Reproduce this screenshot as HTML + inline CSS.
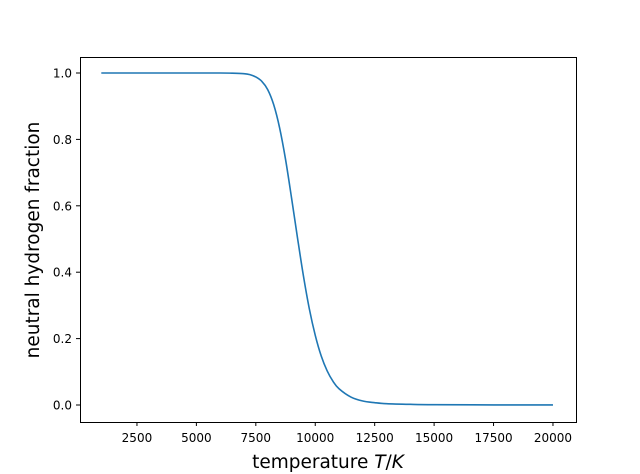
<!DOCTYPE html>
<html><head><meta charset="utf-8"><style>
html,body{margin:0;padding:0;background:#fff;}
svg{display:block;font-family:"DejaVu Sans","Liberation Sans",sans-serif;}
</style></head><body>
<svg id="chart" width="640" height="474" viewBox="0 0 640 474">
<rect x="0" y="0" width="640" height="474" fill="#fff"/>
<g id="ticks"></g>
<path id="curve" fill="none" stroke="#1f77b4" stroke-width="1.6"/>
<rect x="80.5" y="57.5" width="496" height="365" fill="none" stroke="#000" stroke-width="1"/>
<text x="328" y="468" font-size="18.5" text-anchor="middle">temperature <tspan font-style="italic">T</tspan>/<tspan font-style="italic">K</tspan></text>
<text transform="translate(39,240) rotate(-90)" font-size="18.5" text-anchor="middle">neutral hydrogen fraction</text>
</svg>
<script>
const temps = [1000,3000,5000,6000,6500,7000,7250,7500,7750,8000,8250,8500,8750,9000,9250,9500,9750,10000,10250,10500,10750,11000,11500,12000,12500,13000,14000,15000,17500,20000];
const fractions = [1,1,1,1,0.9995,0.998,0.995,0.988,0.975,0.95,0.905,0.835,0.74,0.625,0.505,0.39,0.29,0.21,0.148,0.103,0.071,0.049,0.024,0.012,0.007,0.004,0.002,0.001,0.0003,0.0001];
const xTicks = [2500,5000,7500,10000,12500,15000,17500,20000];
const yTicks = [0.0,0.2,0.4,0.6,0.8,1.0];
const yTickLabels = ["0.0","0.2","0.4","0.6","0.8","1.0"];

function xs(t){ return 101.3 + (t-1000)*0.023772; }
function ys(v){ return 405 - v*332; }
const NS="http://www.w3.org/2000/svg";
const g=document.getElementById('ticks');
xTicks.forEach(t=>{
  const x=xs(t);
  const l=document.createElementNS(NS,'line');
  l.setAttribute('x1',x);l.setAttribute('x2',x);l.setAttribute('y1',422);l.setAttribute('y2',426);l.setAttribute('stroke','#000');
  
  
  g.appendChild(l);
  const tx=document.createElementNS(NS,'text');
  tx.setAttribute('x',x);tx.setAttribute('y',442);tx.setAttribute('font-size','12');tx.setAttribute('text-anchor','middle');
  tx.textContent=String(t);
  
  
  g.appendChild(tx);
});
yTicks.forEach((v,i)=>{
  const y=ys(v);
  const l=document.createElementNS(NS,'line');
  l.setAttribute('x1',76);l.setAttribute('x2',80);l.setAttribute('y1',y);l.setAttribute('y2',y);l.setAttribute('stroke','#000');
  
  
  g.appendChild(l);
  const tx=document.createElementNS(NS,'text');
  tx.setAttribute('x',72);tx.setAttribute('y',y+4.5);tx.setAttribute('font-size','12');tx.setAttribute('text-anchor','end');
  tx.textContent=yTickLabels[i];
  
  
  g.appendChild(tx);
});
const P=temps.map((t,i)=>[xs(t),ys(fractions[i])]);
let d='M'+P[0][0].toFixed(2)+','+P[0][1].toFixed(2);
for(let i=0;i<P.length-1;i++){
  const p0=P[Math.max(0,i-1)],p1=P[i],p2=P[i+1],p3=P[Math.min(P.length-1,i+2)];
  const c1=[p1[0]+(p2[0]-p0[0])/6,p1[1]+(p2[1]-p0[1])/6];
  const c2=[p2[0]-(p3[0]-p1[0])/6,p2[1]-(p3[1]-p1[1])/6];
  d+='C'+c1[0].toFixed(2)+','+c1[1].toFixed(2)+' '+c2[0].toFixed(2)+','+c2[1].toFixed(2)+' '+p2[0].toFixed(2)+','+p2[1].toFixed(2);
}
document.getElementById('curve').setAttribute('d',d);
</script>
</body></html>
